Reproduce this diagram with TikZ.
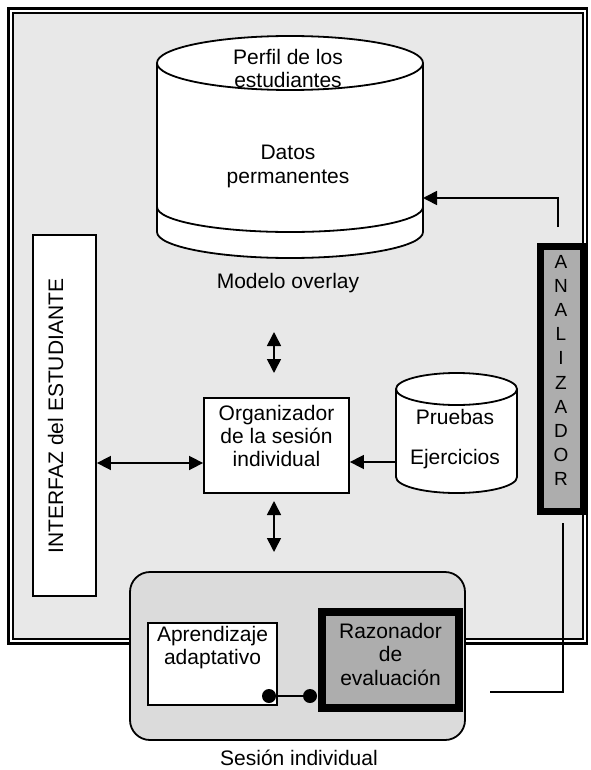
\documentclass[tikz,border=0pt]{standalone}
\usepackage{fontspec}
\setmainfont{Liberation Sans}
\usetikzlibrary{arrows.meta,positioning}
\definecolor{framegray}{gray}{0.91}
\definecolor{sesgray}{gray}{0.86}
\definecolor{darkbox}{gray}{0.68}
\tikzset{
  lbl/.style={font=\fontsize{21}{23}\selectfont, align=center, inner sep=0pt},
  box/.style={draw, line width=1.8pt, fill=white, inner sep=0pt},
  arr/.style={line width=1.6pt, >={Triangle[length=14pt,width=14pt]}},
  dot/.style={circle, fill=black, minimum size=14pt, inner sep=0pt},
}
\begin{document}
\begin{tikzpicture}[x=1pt,y=-1pt]
    \useasboundingbox (0,0) rectangle (590,770);
    \draw[line width=2.5pt] (8.5,8.5) rectangle (587,643.5);
    \filldraw[fill=framegray, line width=1.5pt] (13,13) rectangle (583,639);
    \filldraw[fill=white, line width=1.8pt] (157,63) -- (157,232) arc[start angle=180, end angle=360, x radius=133pt, y radius=26pt] -- (423,63);
    \filldraw[fill=white, line width=1.8pt] (290,63) ellipse[x radius=133pt, y radius=27pt];
    \draw[line width=1.8pt] (157,207) arc[start angle=180, end angle=360, x radius=133pt, y radius=25pt];
    \node[lbl] (perfil) at (288,68) {Perfil de los\\estudiantes};
    \node[lbl, font=\fontsize{21}{24}\selectfont] (datos) at (288,166) {Datos\\permanentes};
    \node[lbl, anchor=base] (modelo) at (288,288) {Modelo overlay};
    \coordinate (cyl-e) at (423,198);
    \filldraw[fill=white, line width=1.8pt] (396,389) -- (396,477) arc[start angle=180, end angle=360, x radius=60.5pt, y radius=16pt] -- (517,389);
    \filldraw[fill=white, line width=1.8pt] (456.5,389) ellipse[x radius=60.5pt, y radius=16pt];
    \node[lbl, font=\fontsize{21}{40}\selectfont] (pruebas) at (455,439) {Pruebas\\Ejercicios};
    \coordinate (prb-w) at (396,462);
    \node[box, minimum width=63pt, minimum height=361pt] (interfaz) at (64.5,415.5) {};
    \node[lbl, rotate=90] (interfaz-txt) at (55.5,416) {INTERFAZ del ESTUDIANTE};
    \node[box, minimum width=145pt, minimum height=95pt] (org) at (276.5,445.5) {};
    \node[lbl] (org-txt) at (276.5,436) {Organizador\\de la sesión\\individual};
    \node[draw, line width=7pt, fill=darkbox, minimum width=43pt, minimum height=265pt, inner sep=0pt] (analiz) at (562,379) {};
    \node[lbl, font=\fontsize{19}{24.2}\selectfont] (analiz-txt) at (561,370.5) {A\\N\\A\\L\\I\\Z\\A\\D\\O\\R};
    \node[draw, rounded corners=20pt, fill=sesgray, line width=1.8pt, minimum width=335pt, minimum height=168pt, inner sep=0pt] (sesion) at (297.5,656) {};
    \node[lbl, anchor=base] (sesion-txt) at (299,765) {Sesión individual};
    \node[box, minimum width=129pt, minimum height=82pt] (aprend) at (212.5,664) {};
    \node[lbl] (aprend-txt) at (212.5,648) {Aprendizaje\\adaptativo};
    \node[draw, line width=8pt, fill=darkbox, minimum width=137pt, minimum height=96pt, inner sep=0pt] (razon) at (390.5,660) {};
    \node[lbl, font=\fontsize{21}{23.5}\selectfont] (razon-txt) at (390.5,654) {Razonador\\de\\evaluación};
    \node[dot] (d1) at (269,696) {};
    \node[dot] (d2) at (310,696) {};
    \draw[line width=1.6pt] (d1) -- (d2);
    \coordinate (an-top) at (558,227);
    \draw[arr,->] (an-top) -- (an-top |- cyl-e) -- (cyl-e);
    \coordinate (an-bot) at (563,523);
    \coordinate (an-end) at (490,692);
    \draw[line width=1.6pt] (an-bot) |- (an-end);
    \coordinate (up-a) at (274,332);
    \coordinate (up-b) at (274,373);
    \draw[arr,<->] (up-a) -- (up-b);
    \coordinate (dn-a) at (274,501);
    \coordinate (dn-b) at (274,552);
    \draw[arr,<->] (dn-a) -- (dn-b);
    \coordinate (row) at (0,463);
    \draw[arr,<->] (interfaz.east |- row) -- (org.west |- row);
    \draw[arr,->] (prb-w) -- (org.east |- prb-w);
\end{tikzpicture}
\end{document}
